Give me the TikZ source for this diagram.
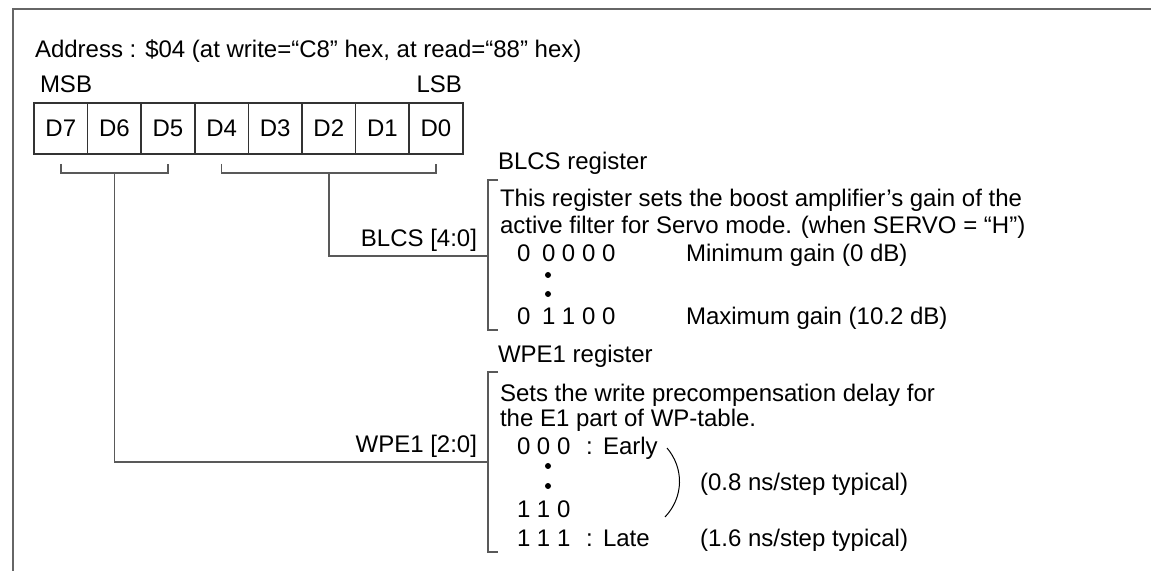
\documentclass[tikz,border=0pt]{standalone}
\usepackage{fontspec}
\setmainfont{Liberation Sans}
\usetikzlibrary{calc}
\usetikzlibrary{positioning}

\begin{document}
\begin{tikzpicture}[x=0.5pt,y=-0.5pt,font=\fontsize{12}{13.5}\selectfont]
    \tikzstyle{bitbox}=[draw=black!80,line width=0.8pt,minimum width=26.8pt,
                       minimum height=25.5pt,inner sep=0pt,outer sep=0pt]
    \tikzstyle{txt}=[anchor=base west,inner sep=0pt,outer sep=0pt]
    \tikzstyle{rtxt}=[anchor=base east,inner sep=0pt,outer sep=0pt]
    \tikzstyle{link}=[draw=black!65,line width=0.8pt]
    \tikzstyle{dotmark}=[circle,fill=black,inner sep=0pt,minimum size=3pt]
    \useasboundingbox (0,0) rectangle (1151,571);
    % Frame
    \draw[black!60,line width=1pt] (13,571) -- (13,9) -- (1151,9);
    % Address and bit cells
    \node[txt] (addr) at (35,58) {Address : \$04 (at write=“C8” hex, at read=“88” hex)};
    \node[txt] (msb) at (40,93) {MSB};
    \node[rtxt] (lsb) at (462,93) {LSB};
    \foreach \b [count=\k from 0] in {7,6,5,4,3,2,1,0}
        \node[bitbox] (d\b) at ({60.8+53.6*\k},128.4) {D\b};
    % Brackets under the cells
    \draw[link] ($(d7.south)+(0,10)$) -- ++(0,9) -| ($(d5.south)+(0,10)$);
    \draw[link] ($(d4.south)+(0,10)$) -- ++(0,9) -| ($(d0.south)+(0,10)$);
    \coordinate (hiM) at ($(d7.south)!0.5!(d5.south)+(0,19)$);
    \coordinate (loM) at ($(d4.south)!0.5!(d0.south)+(0,19)$);
    % BLCS register
    \coordinate (blcsTop) at (488,180);
    \coordinate (blcsBot) at (488,330);
    \coordinate (blcsIn) at (488,256);
    \draw[link] ($(blcsTop)+(10,0)$) -- (blcsTop) -- (blcsBot) -- ++(10,0);
    \draw[link] (loM) |- (blcsIn);
    \node[txt] (blcsreg) at (498,170) {BLCS register};
    \node[rtxt] (blcslab) at (477,247) {BLCS [4:0]};
    \node[txt] (blcs1) at (500,207) {This register sets the boost amplifier’s gain of the};
    \node[txt] (blcs2) at (500,234) {active filter for Servo mode. (when SERVO = “H”)};
    \node[txt] (min0) at (517,262) {0};
    \node[txt] (min1) at (542,262) {0 0 0 0};
    \node[txt] (mingain) at (686,262) {Minimum gain (0 dB)};
    \node[dotmark] (bdot1) at (548,275) {};
    \node[dotmark] (bdot2) at (548,294) {};
    \node[txt] (max0) at (517,325) {0};
    \node[txt] (max1) at (542,325) {1 1 0 0};
    \node[txt] (maxgain) at (686,325) {Maximum gain (10.2 dB)};
    % WPE1 register
    \coordinate (wpeTop) at (488,372);
    \coordinate (wpeBot) at (488,552);
    \coordinate (wpeIn) at (488,462);
    \draw[link] ($(wpeTop)+(10,0)$) -- (wpeTop) -- (wpeBot) -- ++(10,0);
    \draw[link] (hiM) |- (wpeIn);
    \node[txt] (wpereg) at (498,363) {WPE1 register};
    \node[rtxt] (wpelab) at (477,452) {WPE1 [2:0]};
    \node[txt] (wpe1) at (500,401) {Sets the write precompensation delay for};
    \node[txt] (wpe2) at (500,427) {the E1 part of WP-table.};
    \node[txt] (early) at (517,455) {0 0 0};
    \node[txt] (ecol) at (586,455) {:};
    \node[txt] (etxt) at (603,455) {Early};
    \node[dotmark] (wdot1) at (548,466) {};
    \node[dotmark] (wdot2) at (548,486) {};
    \node[txt] (mid) at (517,517) {1 1 0};
    \node[txt] (late) at (517,546) {1 1 1};
    \node[txt] (lcol) at (586,546) {:};
    \node[txt] (ltxt) at (603,546) {Late};
    \coordinate (parTop) at (667,448);
    \coordinate (parBot) at (665,517);
    \draw[black,line width=0.5pt] (parTop) .. controls (684,468) and (684,497) .. (parBot);
    \node[txt] (step1) at (700,490) {(0.8 ns/step typical)};
    \node[txt] (step2) at (700,546) {(1.6 ns/step typical)};
\end{tikzpicture}
\end{document}
